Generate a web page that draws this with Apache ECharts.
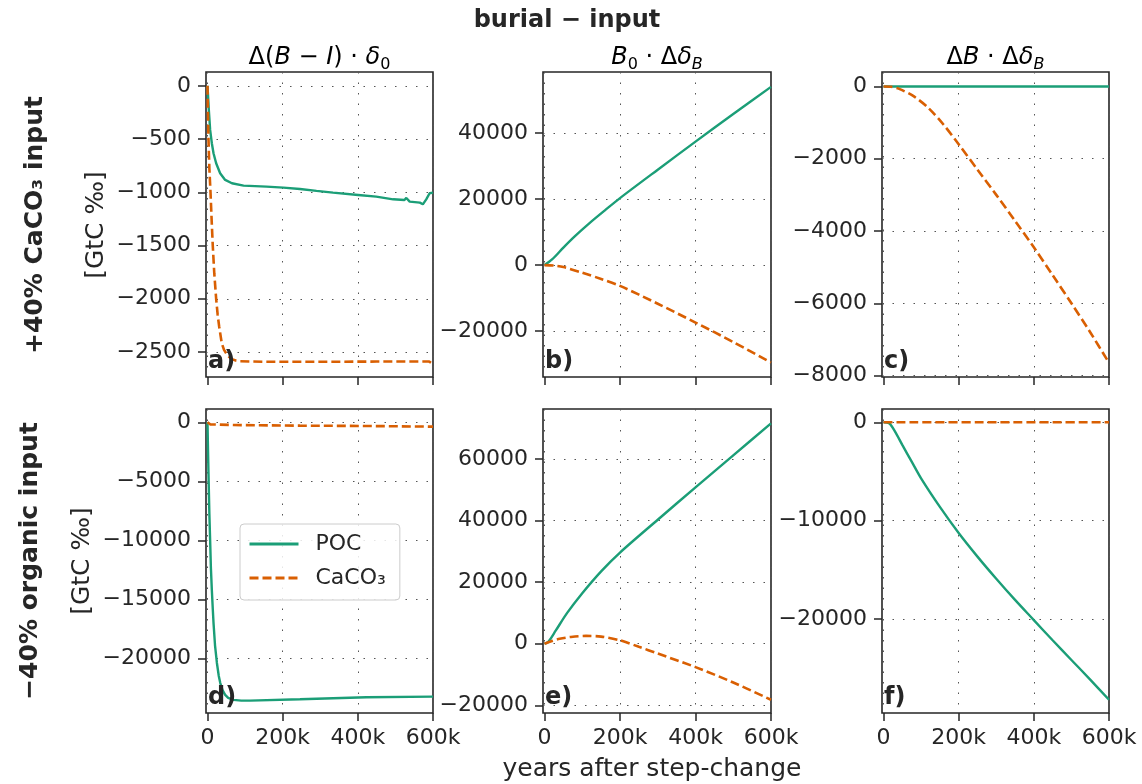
<!DOCTYPE html>
<html lang="en">
<head>
    <meta charset="UTF-8">
    <title>burial - input</title>
    <script src="https://cdn.jsdelivr.net/npm/echarts@6/dist/echarts.min.js"></script>
</head>
<body style="margin:0; background:#fff;">
    <div id="main" style="width: 1142px; height: 784px;"></div>
    <script>
        // x ticks shared by all panels (years after step-change)
        const xTicks = [0, 200000, 400000, 600000];

        // a) Δ(B−I)·δ0, +40% CaCO3 input
        const aPoc = [[0, 0], [3500, -226], [7000, -414], [11500, -539], [16000, -633], [23000, -727],
            [33600, -821], [47000, -884], [65000, -915], [96000, -937], [157000, -947], [202000, -956],
            [246000, -969], [290000, -987], [334000, -1003], [401000, -1025], [449000, -1041],
            [494000, -1066], [524000, -1072], [529000, -1053], [538000, -1088], [565000, -1097],
            [573000, -1113], [582000, -1066], [591000, -1009], [600000, -1003]];
        const aCaco3 = [[0, 0], [1200, -250], [2600, -500], [5000, -780], [8000, -1000], [11000, -1260],
            [14000, -1500], [18000, -1760], [23000, -2000], [27000, -2150], [31000, -2260], [38000, -2420],
            [44000, -2480], [50000, -2514], [57000, -2545], [65000, -2567], [75000, -2580], [87000, -2587],
            [150000, -2592], [300000, -2592], [450000, -2590], [590000, -2590], [600000, -2614]];
        const aTicks = [0, -500, -1000, -1500, -2000, -2500];

        // b) B0·ΔδB, +40% CaCO3 input
        const bPoc = [[0, 0], [20000, 1700], [50000, 5300], [80000, 8700], [120000, 12800], [160000, 16600],
            [200000, 20300], [300000, 28900], [400000, 37400], [500000, 45800], [600000, 54000]];
        const bCaco3 = [[0, 0], [25000, -150], [50000, -600], [100000, -2300], [150000, -4200],
            [200000, -6300], [300000, -11700], [400000, -17400], [500000, -23300], [600000, -29500]];
        const bTicks = [-20000, 0, 20000, 40000];

        // c) ΔB·ΔδB, +40% CaCO3 input
        const cPoc = [[0, 0], [300000, 0], [600000, 0]];
        const cCaco3 = [[0, 0], [20000, -10], [40000, -60], [80000, -270], [120000, -600], [160000, -1060],
            [200000, -1600], [250000, -2300], [300000, -3000], [350000, -3720], [400000, -4450],
            [450000, -5220], [500000, -6000], [550000, -6800], [600000, -7650]];
        const cTicks = [0, -2000, -4000, -6000, -8000];

        // d) Δ(B−I)·δ0, −40% organic input
        const dPoc = [[0, 0], [1000, -1800], [2600, -4300], [5000, -7800], [7000, -10000], [9000, -12300],
            [11500, -14200], [14000, -15800], [16000, -17000], [20000, -18900], [25000, -20400],
            [30000, -21500], [34000, -22100], [40000, -22700], [47000, -23100], [55000, -23350],
            [69000, -23530], [90000, -23590], [113000, -23590], [246000, -23470], [423000, -23300],
            [600000, -23250]];
        const dCaco3 = [[0, 0], [3000, -100], [7000, -170], [69000, -226], [246000, -282], [423000, -310],
            [600000, -367]];
        const dTicks = [0, -5000, -10000, -15000, -20000];

        // e) B0·ΔδB, −40% organic input
        const ePoc = [[0, 0], [10000, 600], [30000, 4300], [60000, 10000], [100000, 16400], [150000, 23500],
            [200000, 29600], [300000, 40250], [400000, 50750], [500000, 61150], [600000, 71550]];
        const eCaco3 = [[0, 0], [20000, 900], [40000, 1600], [70000, 2200], [110000, 2550], [150000, 2300],
            [200000, 1100], [250000, -1000], [300000, -3200], [400000, -7600], [500000, -12600],
            [600000, -18200]];
        const eTicks = [-20000, 0, 20000, 40000, 60000];

        // f) ΔB·ΔδB, −40% organic input
        const fPoc = [[0, 0], [15000, -100], [30000, -900], [50000, -2300], [75000, -4000], [100000, -5700],
            [150000, -8600], [200000, -11250], [250000, -13650], [300000, -15900], [350000, -18050],
            [400000, -20100], [450000, -22150], [500000, -24150], [550000, -26150], [600000, -28190]];
        const fCaco3 = [[0, 0], [300000, 0], [600000, 0]];
        const fTicks = [0, -10000, -20000];

        const FONT = 'DejaVu Sans';
        const INK = '#262626';
        const GREEN = '#1b9e77';
        const ORANGE = '#d95f02';

        // panel boxes in pixels
        const cols = [{ left: 206, width: 227 }, { left: 543, width: 228 }, { left: 882, width: 227 }];
        const rows = [{ top: 72, height: 305 }, { top: 409, height: 304 }];

        const panels = [
            { poc: aPoc, caco3: aCaco3, ticks: aTicks, min: -2735, max: 130, label: 'a)', smooth: false },
            { poc: bPoc, caco3: bCaco3, ticks: bTicks, min: -33900, max: 58500, label: 'b)', smooth: 0.3 },
            { poc: cPoc, caco3: cCaco3, ticks: cTicks, min: -8040, max: 400, label: 'c)', smooth: 0.3 },
            { poc: dPoc, caco3: dCaco3, ticks: dTicks, min: -24640, max: 1130, label: 'd)', smooth: false },
            { poc: ePoc, caco3: eCaco3, ticks: eTicks, min: -22500, max: 76200, label: 'e)', smooth: 0.3 },
            { poc: fPoc, caco3: fCaco3, ticks: fTicks, min: -29540, max: 1350, label: 'f)', smooth: 0.3 }
        ];

        const minus = v => String(v).replace('-', '\u2212');
        const gridLine = { show: true, lineStyle: { color: '#555', width: 1, type: [1.5, 9] } };
        const tick = { show: true, length: 8, lineStyle: { color: INK, width: 1.5 } };

        const grid = [], xAxis = [], yAxis = [], series = [], graphic = [];
        panels.forEach((p, i) => {
            const c = cols[i % 3], r = rows[Math.floor(i / 3)];
            const bottomRow = i >= 3;
            grid.push({ left: c.left, top: r.top, width: c.width, height: r.height,
                show: true, borderColor: INK, borderWidth: 1.6, backgroundColor: '#fff' });
            xAxis.push({
                type: 'value', gridIndex: i, min: -4000, max: 600000,
                axisLine: { show: false, onZero: false },
                axisTick: Object.assign({ customValues: xTicks }, tick),
                splitLine: gridLine,
                axisLabel: {
                    show: bottomRow, customValues: xTicks, margin: 14,
                    fontFamily: FONT, fontSize: 22, color: INK,
                    formatter: v => v === 0 ? '0' : (v / 1000) + 'k'
                }
            });
            yAxis.push({
                type: 'value', gridIndex: i, min: p.min, max: p.max,
                axisLine: { show: false, onZero: false },
                axisTick: Object.assign({ customValues: p.ticks }, tick),
                splitLine: gridLine,
                axisLabel: {
                    customValues: p.ticks, margin: 15,
                    fontFamily: FONT, fontSize: 22, color: INK,
                    formatter: minus
                }
            });
            series.push({
                name: 'POC', type: 'line', xAxisIndex: i, yAxisIndex: i, data: p.poc,
                symbol: 'none', smooth: p.smooth,
                lineStyle: { color: GREEN, width: 2.4 }, itemStyle: { color: GREEN },
                z: 3
            });
            series.push({
                name: 'CaCO\u2083', type: 'line', xAxisIndex: i, yAxisIndex: i, data: p.caco3,
                symbol: 'none', smooth: p.smooth,
                lineStyle: { color: ORANGE, width: 2.6, type: [9, 4] }, itemStyle: { color: ORANGE },
                z: 4
            });
            graphic.push({
                type: 'text', left: c.left + 2, top: r.top + r.height - 27, z: 10,
                style: { text: p.label, fontFamily: FONT, fontSize: 24, fontWeight: 'bold', fill: INK }
            });
        });

        const richMath = {
            n: { fontFamily: FONT, fontSize: 24, color: INK, lineHeight: 30 },
            i: { fontFamily: FONT, fontSize: 24, color: INK, fontStyle: 'italic', lineHeight: 30 },
            s: { fontFamily: FONT, fontSize: 16, color: INK, lineHeight: 16, verticalAlign: 'bottom' },
            si: { fontFamily: FONT, fontSize: 16, color: INK, fontStyle: 'italic', lineHeight: 16, verticalAlign: 'bottom' }
        };
        const colTitles = [
            '{n|\u0394(}{i|B}{n| \u2212 }{i|I}{n|) \u00b7 }{i|\u03b4}{s|0}',
            '{i|B}{s|0}{n| \u00b7 \u0394}{i|\u03b4}{si|B}',
            '{n|\u0394}{i|B}{n| \u00b7 \u0394}{i|\u03b4}{si|B}'
        ];
        colTitles.forEach((t, k) => {
            graphic.push({
                type: 'text', x: cols[k].left + cols[k].width / 2, y: 58,
                style: { text: t, rich: richMath, align: 'center', verticalAlign: 'middle' }
            });
        });

        graphic.push(
            { type: 'text', x: 567, y: 21,
              style: { text: 'burial \u2212 input', fontFamily: FONT, fontSize: 24, fontWeight: 'bold',
                       fill: INK, align: 'center', verticalAlign: 'middle' } },
            { type: 'text', x: 35, y: 225, rotation: Math.PI / 2,
              style: { text: '+40% CaCO\u2083 input', fontFamily: FONT, fontSize: 25, fontWeight: 'bold',
                       fill: INK, align: 'center', verticalAlign: 'middle' } },
            { type: 'text', x: 30, y: 561, rotation: Math.PI / 2,
              style: { text: '\u221240% organic input', fontFamily: FONT, fontSize: 25, fontWeight: 'bold',
                       fill: INK, align: 'center', verticalAlign: 'middle' } },
            { type: 'text', x: 96, y: 225, rotation: Math.PI / 2,
              style: { text: '[GtC \u2030]', fontFamily: FONT, fontSize: 25,
                       fill: INK, align: 'center', verticalAlign: 'middle' } },
            { type: 'text', x: 82, y: 561, rotation: Math.PI / 2,
              style: { text: '[GtC \u2030]', fontFamily: FONT, fontSize: 25,
                       fill: INK, align: 'center', verticalAlign: 'middle' } },
            { type: 'text', x: 652, y: 769,
              style: { text: 'years after step-change', fontFamily: FONT, fontSize: 25,
                       fill: INK, align: 'center', verticalAlign: 'middle' } }
        );

        var myChart = echarts.init(document.getElementById('main'));
        myChart.setOption({
            backgroundColor: '#fff',
            animation: false,
            grid: grid,
            xAxis: xAxis,
            yAxis: yAxis,
            series: series,
            graphic: graphic,
            legend: {
                data: ['POC', 'CaCO\u2083'],
                orient: 'vertical', left: 240, top: 524,
                padding: [9, 14, 11, 8], itemWidth: 49, itemHeight: 14, itemGap: 12,
                itemStyle: { opacity: 0 },
                lineStyle: { width: 3 },
                backgroundColor: 'rgba(255,255,255,0.85)', borderColor: '#cccccc', borderWidth: 1, borderRadius: 4,
                textStyle: { fontFamily: FONT, fontSize: 22, color: INK, padding: [0, 0, 0, 12] },
                selectedMode: false, z: 20
            }
        });
    </script>
</body>
</html>
